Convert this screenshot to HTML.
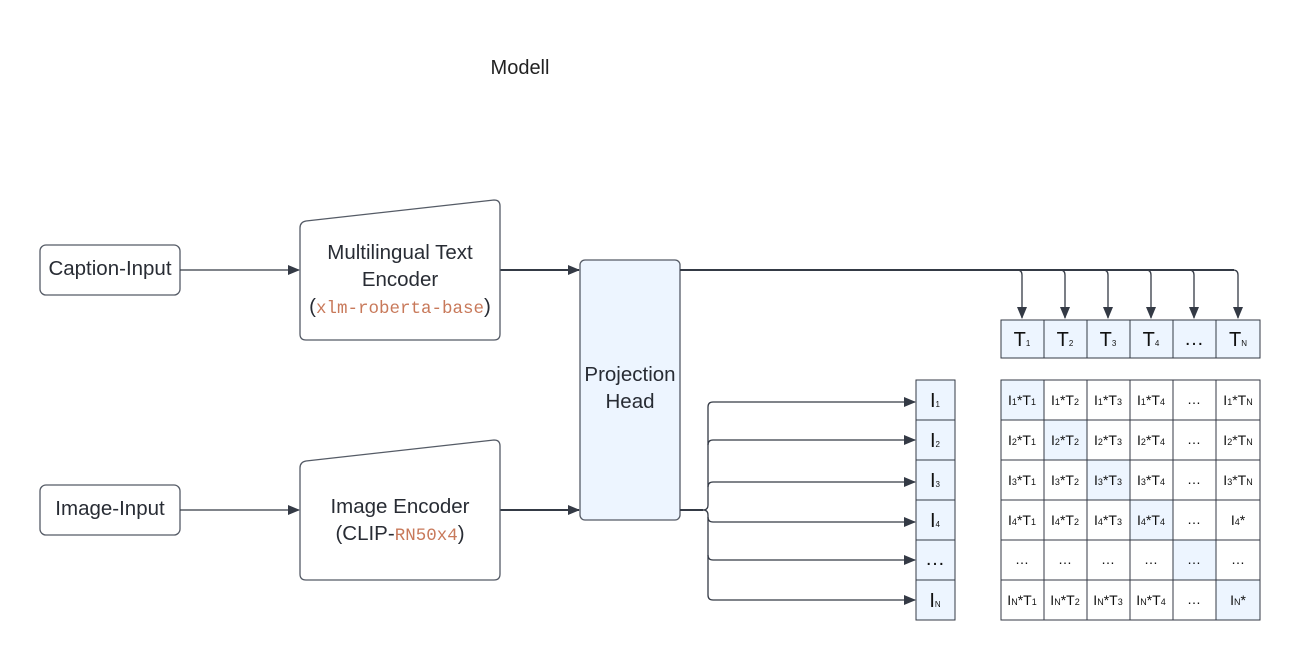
<!DOCTYPE html>
<html><head><meta charset="utf-8"><style>
html,body{margin:0;padding:0;background:#fff;}
svg{display:block;font-family:"Liberation Sans",sans-serif;}
</style></head><body>
<svg width="1300" height="660" viewBox="0 0 1300 660" xmlns="http://www.w3.org/2000/svg">
<defs>
<marker id="ah" markerWidth="12" markerHeight="10" refX="11" refY="5" orient="auto" markerUnits="userSpaceOnUse">
<path d="M0,0 L12,5 L0,10 z" fill="#343a45"/>
</marker>
</defs>
<rect width="1300" height="660" fill="#fff"/>
<text x="520" y="74" font-size="20" fill="#222" text-anchor="middle">Modell</text>

<rect x="40" y="245" width="140" height="50" rx="6" fill="#fff" stroke="#555b66" stroke-width="1.3"/>
<text x="110" y="275" font-size="20.5" fill="#282c34" text-anchor="middle">Caption-Input</text>
<rect x="40" y="485" width="140" height="50" rx="6" fill="#fff" stroke="#555b66" stroke-width="1.3"/>
<text x="110" y="515" font-size="20.5" fill="#282c34" text-anchor="middle">Image-Input</text>

<g stroke="#343a45" stroke-width="1.3" fill="none">
<line x1="180" y1="270" x2="299" y2="270" marker-end="url(#ah)"/>
<line x1="180" y1="510" x2="299" y2="510" marker-end="url(#ah)"/>
<line x1="500" y1="270" x2="579" y2="270" stroke-width="2" marker-end="url(#ah)"/>
<line x1="500" y1="510" x2="579" y2="510" stroke-width="2" marker-end="url(#ah)"/>
</g>

<path d="M300,228 Q300,222 306,221 L494,200 Q500,200 500,206 L500,334 Q500,340 494,340 L306,340 Q300,340 300,334 Z" fill="#fff" stroke="#555b66" stroke-width="1.3"/>
<text x="400" y="259" font-size="20.5" fill="#282c34" text-anchor="middle">Multilingual Text</text>
<text x="400" y="286" font-size="20.5" fill="#282c34" text-anchor="middle">Encoder</text>
<text x="400" y="313" font-size="20.5" fill="#282c34" text-anchor="middle">(<tspan font-family="Liberation Mono,monospace" font-size="17.5" fill="#c8795a">xlm-roberta-base</tspan>)</text>

<path d="M300,468 Q300,462 306,461 L494,440 Q500,440 500,446 L500,574 Q500,580 494,580 L306,580 Q300,580 300,574 Z" fill="#fff" stroke="#555b66" stroke-width="1.3"/>
<text x="400" y="513" font-size="20.5" fill="#282c34" text-anchor="middle">Image Encoder</text>
<text x="400" y="540" font-size="20.5" fill="#282c34" text-anchor="middle">(CLIP-<tspan font-family="Liberation Mono,monospace" font-size="17.5" fill="#c8795a">RN50x4</tspan>)</text>

<rect x="580" y="260" width="100" height="260" rx="5" fill="#edf5ff" stroke="#555b66" stroke-width="1.3"/>
<text x="630" y="381" font-size="20.5" fill="#282c34" text-anchor="middle">Projection</text>
<text x="630" y="408" font-size="20.5" fill="#282c34" text-anchor="middle">Head</text>

<g stroke="#343a45" stroke-width="1.3" fill="none">
<line x1="680" y1="270" x2="1234" y2="270" stroke-width="2"/>
<path d="M1017,270 Q1022,270 1022,275 L1022,318" marker-end="url(#ah)"/>
<path d="M1060,270 Q1065,270 1065,275 L1065,318" marker-end="url(#ah)"/>
<path d="M1103,270 Q1108,270 1108,275 L1108,318" marker-end="url(#ah)"/>
<path d="M1146,270 Q1151,270 1151,275 L1151,318" marker-end="url(#ah)"/>
<path d="M1189,270 Q1194,270 1194,275 L1194,318" marker-end="url(#ah)"/>
<path d="M1233,270 Q1238,270 1238,275 L1238,318" marker-end="url(#ah)"/>
</g>

<g stroke="#343a45" stroke-width="1.3" fill="none">
<line x1="680" y1="510" x2="703" y2="510" stroke-width="2"/>
<path d="M703,510 Q708,510 708,505 L708,407 Q708,402 713,402 L915,402" marker-end="url(#ah)"/>
<path d="M708,445 Q708,440 713,440 L915,440" marker-end="url(#ah)"/>
<path d="M708,487 Q708,482 713,482 L915,482" marker-end="url(#ah)"/>
<path d="M703,510 Q708,510 708,515 L708,595 Q708,600 713,600 L915,600" marker-end="url(#ah)"/>
<path d="M708,517 Q708,522 713,522 L915,522" marker-end="url(#ah)"/>
<path d="M708,555 Q708,560 713,560 L915,560" marker-end="url(#ah)"/>
</g>

<g stroke="#343a45" stroke-width="1" fill="#edf5ff">
<rect x="916" y="380" width="39" height="40"/><rect x="916" y="420" width="39" height="40"/>
<rect x="916" y="460" width="39" height="40"/><rect x="916" y="500" width="39" height="40"/>
<rect x="916" y="540" width="39" height="40"/><rect x="916" y="580" width="39" height="40"/>
</g>
<g font-size="20" fill="#111" text-anchor="middle">
<text x="935" y="407">I<tspan font-size="8">1</tspan></text>
<text x="935" y="447">I<tspan font-size="8">2</tspan></text>
<text x="935" y="487">I<tspan font-size="8">3</tspan></text>
<text x="935" y="527">I<tspan font-size="8">4</tspan></text>
<text x="935" y="565">…</text>
<text x="935" y="607">I<tspan font-size="8">N</tspan></text>
</g>

<g stroke="#343a45" stroke-width="1" fill="#edf5ff">
<rect x="1001" y="320" width="43" height="38"/><rect x="1044" y="320" width="43" height="38"/>
<rect x="1087" y="320" width="43" height="38"/><rect x="1130" y="320" width="43" height="38"/>
<rect x="1173" y="320" width="43" height="38"/><rect x="1216" y="320" width="44" height="38"/>
</g>
<g font-size="20" fill="#111" text-anchor="middle">
<text x="1022" y="346">T<tspan font-size="8">1</tspan></text>
<text x="1065" y="346">T<tspan font-size="8">2</tspan></text>
<text x="1108" y="346">T<tspan font-size="8">3</tspan></text>
<text x="1151" y="346">T<tspan font-size="8">4</tspan></text>
<text x="1194" y="345">…</text>
<text x="1238" y="346">T<tspan font-size="8">N</tspan></text>
</g>

<g stroke="#343a45" stroke-width="1" fill="#fff">
<rect x="1001" y="380" width="259" height="240"/>
</g>
<g fill="#edf5ff">
<rect x="1001.5" y="380.5" width="42.5" height="39.5"/>
<rect x="1044" y="420" width="43" height="40"/>
<rect x="1087" y="460" width="43" height="40"/>
<rect x="1130" y="500" width="43" height="40"/>
<rect x="1173" y="540" width="43" height="40"/>
<rect x="1216" y="580" width="43.5" height="39.5"/>
</g>
<g stroke="#343a45" stroke-width="1">
<line x1="1044" y1="380" x2="1044" y2="620"/><line x1="1087" y1="380" x2="1087" y2="620"/>
<line x1="1130" y1="380" x2="1130" y2="620"/><line x1="1173" y1="380" x2="1173" y2="620"/>
<line x1="1216" y1="380" x2="1216" y2="620"/>
<line x1="1001" y1="420" x2="1260" y2="420"/><line x1="1001" y1="460" x2="1260" y2="460"/>
<line x1="1001" y1="500" x2="1260" y2="500"/><line x1="1001" y1="540" x2="1260" y2="540"/>
<line x1="1001" y1="580" x2="1260" y2="580"/>
</g>
<g font-size="14" fill="#111" text-anchor="middle">
<text x="1022" y="405">I<tspan font-size="9">1</tspan>*T<tspan font-size="9">1</tspan></text>
<text x="1065" y="405">I<tspan font-size="9">1</tspan>*T<tspan font-size="9">2</tspan></text>
<text x="1108" y="405">I<tspan font-size="9">1</tspan>*T<tspan font-size="9">3</tspan></text>
<text x="1151" y="405">I<tspan font-size="9">1</tspan>*T<tspan font-size="9">4</tspan></text>
<text x="1194" y="404">…</text>
<text x="1238" y="405">I<tspan font-size="9">1</tspan>*T<tspan font-size="9">N</tspan></text>

<text x="1022" y="445">I<tspan font-size="9">2</tspan>*T<tspan font-size="9">1</tspan></text>
<text x="1065" y="445">I<tspan font-size="9">2</tspan>*T<tspan font-size="9">2</tspan></text>
<text x="1108" y="445">I<tspan font-size="9">2</tspan>*T<tspan font-size="9">3</tspan></text>
<text x="1151" y="445">I<tspan font-size="9">2</tspan>*T<tspan font-size="9">4</tspan></text>
<text x="1194" y="444">…</text>
<text x="1238" y="445">I<tspan font-size="9">2</tspan>*T<tspan font-size="9">N</tspan></text>

<text x="1022" y="485">I<tspan font-size="9">3</tspan>*T<tspan font-size="9">1</tspan></text>
<text x="1065" y="485">I<tspan font-size="9">3</tspan>*T<tspan font-size="9">2</tspan></text>
<text x="1108" y="485">I<tspan font-size="9">3</tspan>*T<tspan font-size="9">3</tspan></text>
<text x="1151" y="485">I<tspan font-size="9">3</tspan>*T<tspan font-size="9">4</tspan></text>
<text x="1194" y="484">…</text>
<text x="1238" y="485">I<tspan font-size="9">3</tspan>*T<tspan font-size="9">N</tspan></text>

<text x="1022" y="525">I<tspan font-size="9">4</tspan>*T<tspan font-size="9">1</tspan></text>
<text x="1065" y="525">I<tspan font-size="9">4</tspan>*T<tspan font-size="9">2</tspan></text>
<text x="1108" y="525">I<tspan font-size="9">4</tspan>*T<tspan font-size="9">3</tspan></text>
<text x="1151" y="525">I<tspan font-size="9">4</tspan>*T<tspan font-size="9">4</tspan></text>
<text x="1194" y="524">…</text>
<text x="1238" y="525">I<tspan font-size="9">4</tspan>*</text>

<text x="1022" y="564">…</text>
<text x="1065" y="564">…</text>
<text x="1108" y="564">…</text>
<text x="1151" y="564">…</text>
<text x="1194" y="564">…</text>
<text x="1238" y="564">…</text>

<text x="1022" y="605">I<tspan font-size="9">N</tspan>*T<tspan font-size="9">1</tspan></text>
<text x="1065" y="605">I<tspan font-size="9">N</tspan>*T<tspan font-size="9">2</tspan></text>
<text x="1108" y="605">I<tspan font-size="9">N</tspan>*T<tspan font-size="9">3</tspan></text>
<text x="1151" y="605">I<tspan font-size="9">N</tspan>*T<tspan font-size="9">4</tspan></text>
<text x="1194" y="604">…</text>
<text x="1238" y="605">I<tspan font-size="9">N</tspan>*</text>
</g>
</svg>
</body></html>
